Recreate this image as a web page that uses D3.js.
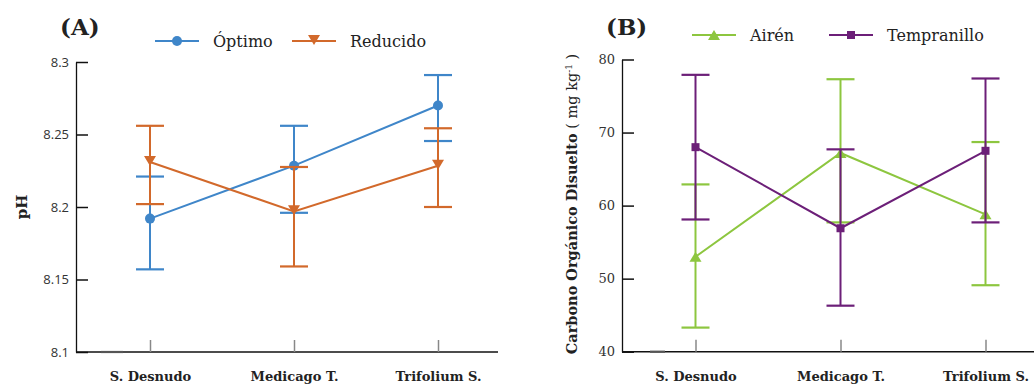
<!DOCTYPE html>
<html><head><meta charset="utf-8">
<script src="https://cdn.jsdelivr.net/npm/d3@7/dist/d3.min.js"></script>
<style>
body{margin:0;background:#fff;}
svg{display:block;}
</style></head>
<body><svg id="c" width="1034" height="387"></svg>
<script>
const categories = ["S. Desnudo", "Medicago T.", "Trifolium S."];

// Panel A: pH
const phTicks = [8.1, 8.15, 8.2, 8.25, 8.3];
const phTickLabels = ["8.1", "8.15", "8.2", "8.25", "8.3"];
const optimoMean = [8.192, 8.2285, 8.270];
const optimoHigh = [8.221, 8.256, 8.291];
const optimoLow  = [8.157, 8.196, 8.2455];
const reducidoMean = [8.231, 8.197, 8.2285];
const reducidoHigh = [8.256, 8.2276, 8.2543];
const reducidoLow  = [8.202, 8.159, 8.200];

// Panel B: COD
const codTicks = [40, 50, 60, 70, 80];
const airenMean = [53.0, 67.2, 58.8];
const airenHigh = [62.9, 77.3, 68.7];
const airenLow  = [43.3, 57.7, 49.1];
const tempMean = [68.0, 56.9, 67.5];
const tempHigh = [77.9, 67.7, 77.4];
const tempLow  = [58.1, 46.3, 57.7];

const colors = {optimo:"#3f86c9", reducido:"#d2692b", airen:"#8dc63f", temp:"#6c1f78"};

const svg = d3.select("#c");
const serif = "'DejaVu Serif', serif";
const sans = "'Open Sans', 'Liberation Sans', sans-serif";

function panel(o){
  const g = svg.append("g");
  const x = d3.scalePoint().domain(categories).range(o.xr);
  const y = d3.scaleLinear().domain(o.yd).range(o.yr);
  const ya = d3.axisLeft(y).tickValues(o.ticks).tickFormat((d,i)=>o.tickLabels[i]).tickSizeInner(-12).tickSizeOuter(0).tickPadding(7);
  const yg = g.append("g").attr("transform",`translate(${o.axisX},0)`).call(ya);
  yg.select(".domain").attr("stroke","#111").attr("stroke-width",1.3);
  yg.selectAll(".tick line").attr("stroke","#111").attr("stroke-width",1.5);
  yg.selectAll(".tick text").attr("font-family",o.tickFont).attr("font-size",o.tickSize).attr("fill","#333");
  g.append("line").attr("x1",o.axisX).attr("x2",o.axisEnd).attr("y1",o.yr[0]).attr("y2",o.yr[0]).attr("stroke","#111").attr("stroke-width",1.5);
  g.append("line").attr("x1",o.darkSeg[0]).attr("x2",o.darkSeg[1]).attr("y1",o.yr[0]).attr("y2",o.yr[0]).attr("stroke","#555").attr("stroke-width",2.2);
  const xa = d3.axisBottom(x).tickSizeInner(-12).tickSizeOuter(0).tickPadding(20);
  const xg = g.append("g").attr("transform",`translate(0,${o.yr[0]})`).call(xa);
  xg.select(".domain").remove();
  xg.selectAll(".tick line").attr("stroke","#888").attr("stroke-width",1.5);
  xg.selectAll(".tick text").attr("font-family",serif).attr("font-weight","bold").attr("font-size",13).attr("fill","#222");
  o.series.forEach(s=>{
    const sg = g.append("g");
    const line = d3.line().x((d,i)=>x(categories[i])).y(d=>y(d));
    sg.append("path").datum(s.mean).attr("d",line).attr("fill","none").attr("stroke",s.color).attr("stroke-width",2);
    categories.forEach((c,i)=>{
      const cx = x(c);
      sg.append("line").attr("x1",cx).attr("x2",cx).attr("y1",y(s.low[i])).attr("y2",y(s.high[i])).attr("stroke",s.color).attr("stroke-width",2);
      [s.low[i], s.high[i]].forEach(v=>{
        sg.append("line").attr("x1",cx-14).attr("x2",cx+14).attr("y1",y(v)).attr("y2",y(v)).attr("stroke",s.color).attr("stroke-width",2.2);
      });
      drawMarker(sg, s.marker, cx, y(s.mean[i]), s.color);
    });
  });
  o.legend.forEach(l=>{
    g.append("line").attr("x1",l.x).attr("x2",l.x+44).attr("y1",l.y).attr("y2",l.y).attr("stroke",l.color).attr("stroke-width",2.2);
    drawMarker(g, l.marker, l.x+22, l.y, l.color);
    g.append("text").attr("x",l.x+58).attr("y",l.y+6).attr("font-family",serif).attr("font-size",16).attr("fill","#222").text(l.name);
  });
  g.append("text").attr("x",o.labelX).attr("y",35).attr("font-family",serif).attr("font-weight","bold").attr("font-size",23).attr("fill","#222").text(o.label);
  return g;
}

function drawMarker(g, m, cx, cy, color){
  if(m==="circle") g.append("circle").attr("cx",cx).attr("cy",cy).attr("r",5).attr("fill",color);
  else if(m==="tridown") g.append("path").attr("d",`M${cx-6},${cy-6}L${cx+6},${cy-6}L${cx},${cy+4}Z`).attr("fill",color);
  else if(m==="triup") g.append("path").attr("d",`M${cx-6},${cy+5}L${cx+6},${cy+5}L${cx},${cy-5}Z`).attr("fill",color);
  else if(m==="square") g.append("rect").attr("x",cx-4).attr("y",cy-4).attr("width",8).attr("height",8).attr("fill",color);
}

panel({
  xr:[150,438], yd:[8.1,8.3], yr:[352,62], axisX:76, axisEnd:498, darkSeg:[101,123],
  ticks:phTicks, tickLabels:phTickLabels, tickFont:sans, tickSize:13,
  series:[
    {mean:optimoMean, high:optimoHigh, low:optimoLow, color:colors.optimo, marker:"circle"},
    {mean:reducidoMean, high:reducidoHigh, low:reducidoLow, color:colors.reducido, marker:"tridown"}
  ],
  legend:[
    {x:155, y:41, color:colors.optimo, marker:"circle", name:"Óptimo"},
    {x:292, y:41, color:colors.reducido, marker:"tridown", name:"Reducido"}
  ],
  label:"(A)", labelX:60
});

panel({
  xr:[695.5,985.5], yd:[40,80], yr:[351.7,59.5], axisX:622, axisEnd:1034, darkSeg:[650,665],
  ticks:codTicks, tickLabels:codTicks.map(String), tickFont:serif, tickSize:13,
  series:[
    {mean:airenMean, high:airenHigh, low:airenLow, color:colors.airen, marker:"triup"},
    {mean:tempMean, high:tempHigh, low:tempLow, color:colors.temp, marker:"square"}
  ],
  legend:[
    {x:692, y:35, color:colors.airen, marker:"triup", name:"Airén"},
    {x:829, y:35, color:colors.temp, marker:"square", name:"Tempranillo"}
  ],
  label:"(B)", labelX:606
});

svg.append("text").attr("transform","translate(27,207) rotate(-90)").attr("text-anchor","middle")
  .attr("font-family",serif).attr("font-weight","bold").attr("font-size",15).attr("fill","#222").text("pH");
const t = svg.append("text").attr("transform","translate(577,204) rotate(-90)").attr("text-anchor","middle")
  .attr("font-family",serif).attr("font-size",14.5).attr("fill","#222");
t.append("tspan").attr("font-weight","bold").text("Carbono Orgánico Disuelto");
t.append("tspan").text(" ( mg kg");
t.append("tspan").attr("font-size",9).attr("dy",-5).text("-1");
t.append("tspan").attr("dy",5).text(" )");
</script></body></html>
